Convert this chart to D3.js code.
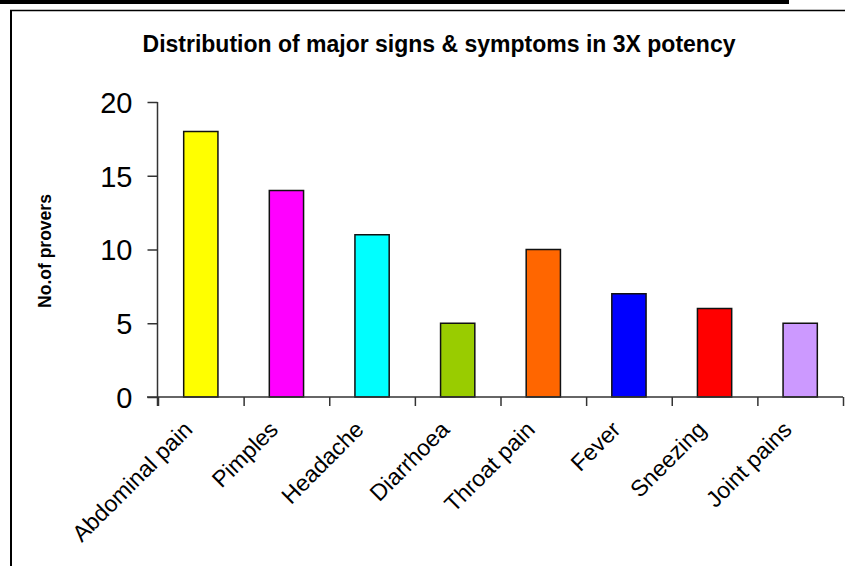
<!DOCTYPE html>
<html>
<head>
<meta charset="utf-8">
<script src="https://cdn.jsdelivr.net/npm/d3@7"></script>
<style>
  html, body { margin: 0; padding: 0; background: #fff; }
  svg { display: block; }
  text { font-family: Arial, "Liberation Sans", Helvetica, sans-serif; fill: #000; }
</style>
</head>
<body>
<svg id="chart" width="845" height="566"></svg>
<script>
// Symptom counts among provers in the 3X potency
const categories = ["Abdominal pain", "Pimples", "Headache", "Diarrhoea", "Throat pain", "Fever", "Sneezing", "Joint pains"];
const provers = [18, 14, 11, 5, 10, 7, 6, 5];
const barColors = ["#FFFF00", "#FF00FF", "#00FFFF", "#99CC00", "#FF6600", "#0000FF", "#FF0000", "#CC99FF"];
const yTicks = [0, 5, 10, 15, 20];

const title = "Distribution of major signs & symptoms in 3X potency";
const yLabel = "No.of provers";

const svg = d3.select("#chart");
const W = 845, H = 566;

// page frame: heavy rule at the top, thin box around the chart
svg.append("rect").attr("x", 0).attr("y", 0).attr("width", 789).attr("height", 4).attr("fill", "#000");
svg.append("line").attr("x1", 10).attr("x2", W).attr("y1", 10.5).attr("y2", 10.5)
  .attr("stroke", "#000").attr("stroke-width", 1.5);
svg.append("line").attr("x1", 11).attr("x2", 11).attr("y1", 10).attr("y2", H)
  .attr("stroke", "#000").attr("stroke-width", 2);

const plot = { left: 158, right: 843, top: 102, bottom: 397 };

const x = d3.scaleBand().domain(categories).range([plot.left, plot.right]).paddingInner(0.6).paddingOuter(0.3);
const xEdges = d3.scaleLinear().domain([0, categories.length]).range([plot.left, plot.right]);
const y = d3.scaleLinear().domain([0, 20]).range([plot.bottom, plot.top]);

// bars
svg.append("g").selectAll("rect").data(provers).join("rect")
  .attr("x", (d, i) => x(categories[i]))
  .attr("y", d => y(d))
  .attr("width", x.bandwidth())
  .attr("height", d => y(0) - y(d))
  .attr("fill", (d, i) => barColors[i])
  .attr("stroke", "#111").attr("stroke-width", 1.5);

// y axis
const yAxis = svg.append("g").attr("transform", `translate(${plot.left - 0.5},0)`)
  .call(d3.axisLeft(y).tickValues(yTicks).tickSize(10).tickPadding(15));
yAxis.select(".domain").attr("stroke", "#333").attr("stroke-width", 1.5)
  .attr("d", `M0,${plot.top}V${plot.bottom + 9}`);
yAxis.selectAll(".tick line").attr("stroke", "#333").attr("stroke-width", 1.5);
yAxis.selectAll(".tick text").style("font-size", "29px").attr("dy", "0.36em");

// x axis: ticks sit on the category boundaries
const xAxis = svg.append("g").attr("transform", `translate(0,${plot.bottom})`)
  .call(d3.axisBottom(xEdges).tickValues(d3.range(categories.length + 1)).tickSize(9).tickFormat(""));
xAxis.select(".domain").attr("stroke", "#333").attr("stroke-width", 1.5)
  .attr("d", `M${plot.left - 11},0H${plot.right}`);
xAxis.selectAll(".tick line").attr("stroke", "#333").attr("stroke-width", 1.5);

// slanted category labels under each bar
svg.append("g").selectAll("text").data(categories).join("text")
  .attr("transform", d => `translate(${x(d) + x.bandwidth() / 2 - 7},${plot.bottom + 34}) rotate(-45)`)
  .attr("text-anchor", "end")
  .style("font-size", "23px")
  .text(d => d);

// title
svg.append("text").attr("x", 439).attr("y", 52).attr("text-anchor", "middle")
  .style("font-size", "23px").style("font-weight", "bold").text(title);

// y axis title
svg.append("text").attr("transform", `translate(51,251) rotate(-90)`).attr("text-anchor", "middle")
  .style("font-size", "17.5px").style("font-weight", "bold").text(yLabel);
</script>
</body>
</html>
